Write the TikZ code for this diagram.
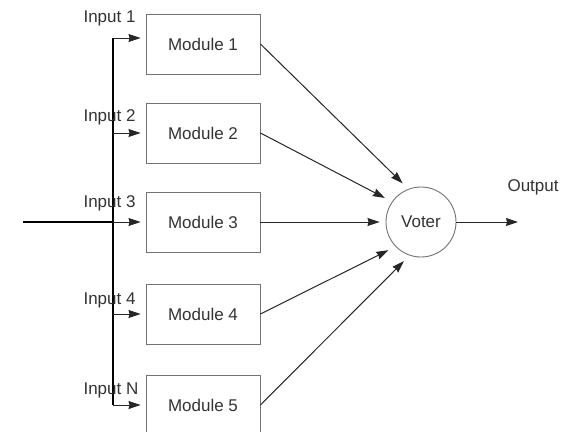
\documentclass[tikz,border=0pt]{standalone}
\usepackage{fontspec}
\setmainfont{Liberation Sans}
\usetikzlibrary{arrows.meta}
\begin{document}
\begin{tikzpicture}[x=1pt,y=-1pt,
  every node/.style={font=\fontsize{17}{20}\selectfont,text=black!80},
  module/.style={draw=black!55,line width=0.9pt,minimum width=114pt,minimum height=60pt,inner sep=0pt},
  arr/.style={draw=black!85,line width=1pt,-{Stealth[length=12pt,width=8pt,inset=1pt]}}]
  \clip (0,0) rectangle (569,431);
  \node[module](M1) at (203,44) {Module 1};
  \node[module](M2) at (203,133) {Module 2};
  \node[module](M3) at (203,222) {Module 3};
  \node[module](M4) at (203,314) {Module 4};
  \node[module](M5) at (203,405) {Module 5};
  \node[circle,draw=black!55,line width=0.9pt,minimum size=70pt,inner sep=0pt](V) at (421,222) {Voter};
  \coordinate(top) at (113,38);
  \coordinate(bot) at (113,405);
  \coordinate(in) at (23,222);
  \coordinate(out) at (518,222);
  % input bus
  \draw[line width=1.4pt] (top) -- (bot);
  \draw[line width=1.4pt] (in) -- (in -| top);
  \draw[arr,shorten >=5pt] (top) -- (top -| M1.west);
  \draw[arr,shorten >=5pt] (top |- M2.west) -- (M2.west);
  \draw[arr,shorten >=5pt] (top |- M3.west) -- (M3.west);
  \draw[arr,shorten >=5pt] (top |- M4.west) -- (M4.west);
  \draw[arr,shorten >=5pt] (bot) -- (M5.west);
  \node[anchor=west](I1) at (80,18) {Input 1};
  \node[anchor=west](I2) at (80,117) {Input 2};
  \node[anchor=west](I3) at (80,203) {Input 3};
  \node[anchor=west](I4) at (80,300) {Input 4};
  \node[anchor=west](IN) at (80,390) {Input N};
  % modules to voter
  \draw[arr,shorten >=8pt] (M1.east) -- (V.111);
  \draw[arr,shorten >=8pt] (M2.east) -- (V.145);
  \draw[arr,shorten >=6pt] (M3.east) -- (V.180);
  \draw[arr,shorten >=8pt] (M4.east) -- (V.224);
  \draw[arr,shorten >=8pt] (M5.east) -- (V.251);
  \draw[arr] (V.east) -- (out);
  \node[anchor=west](O) at (504,187) {Output};
\end{tikzpicture}
\end{document}
